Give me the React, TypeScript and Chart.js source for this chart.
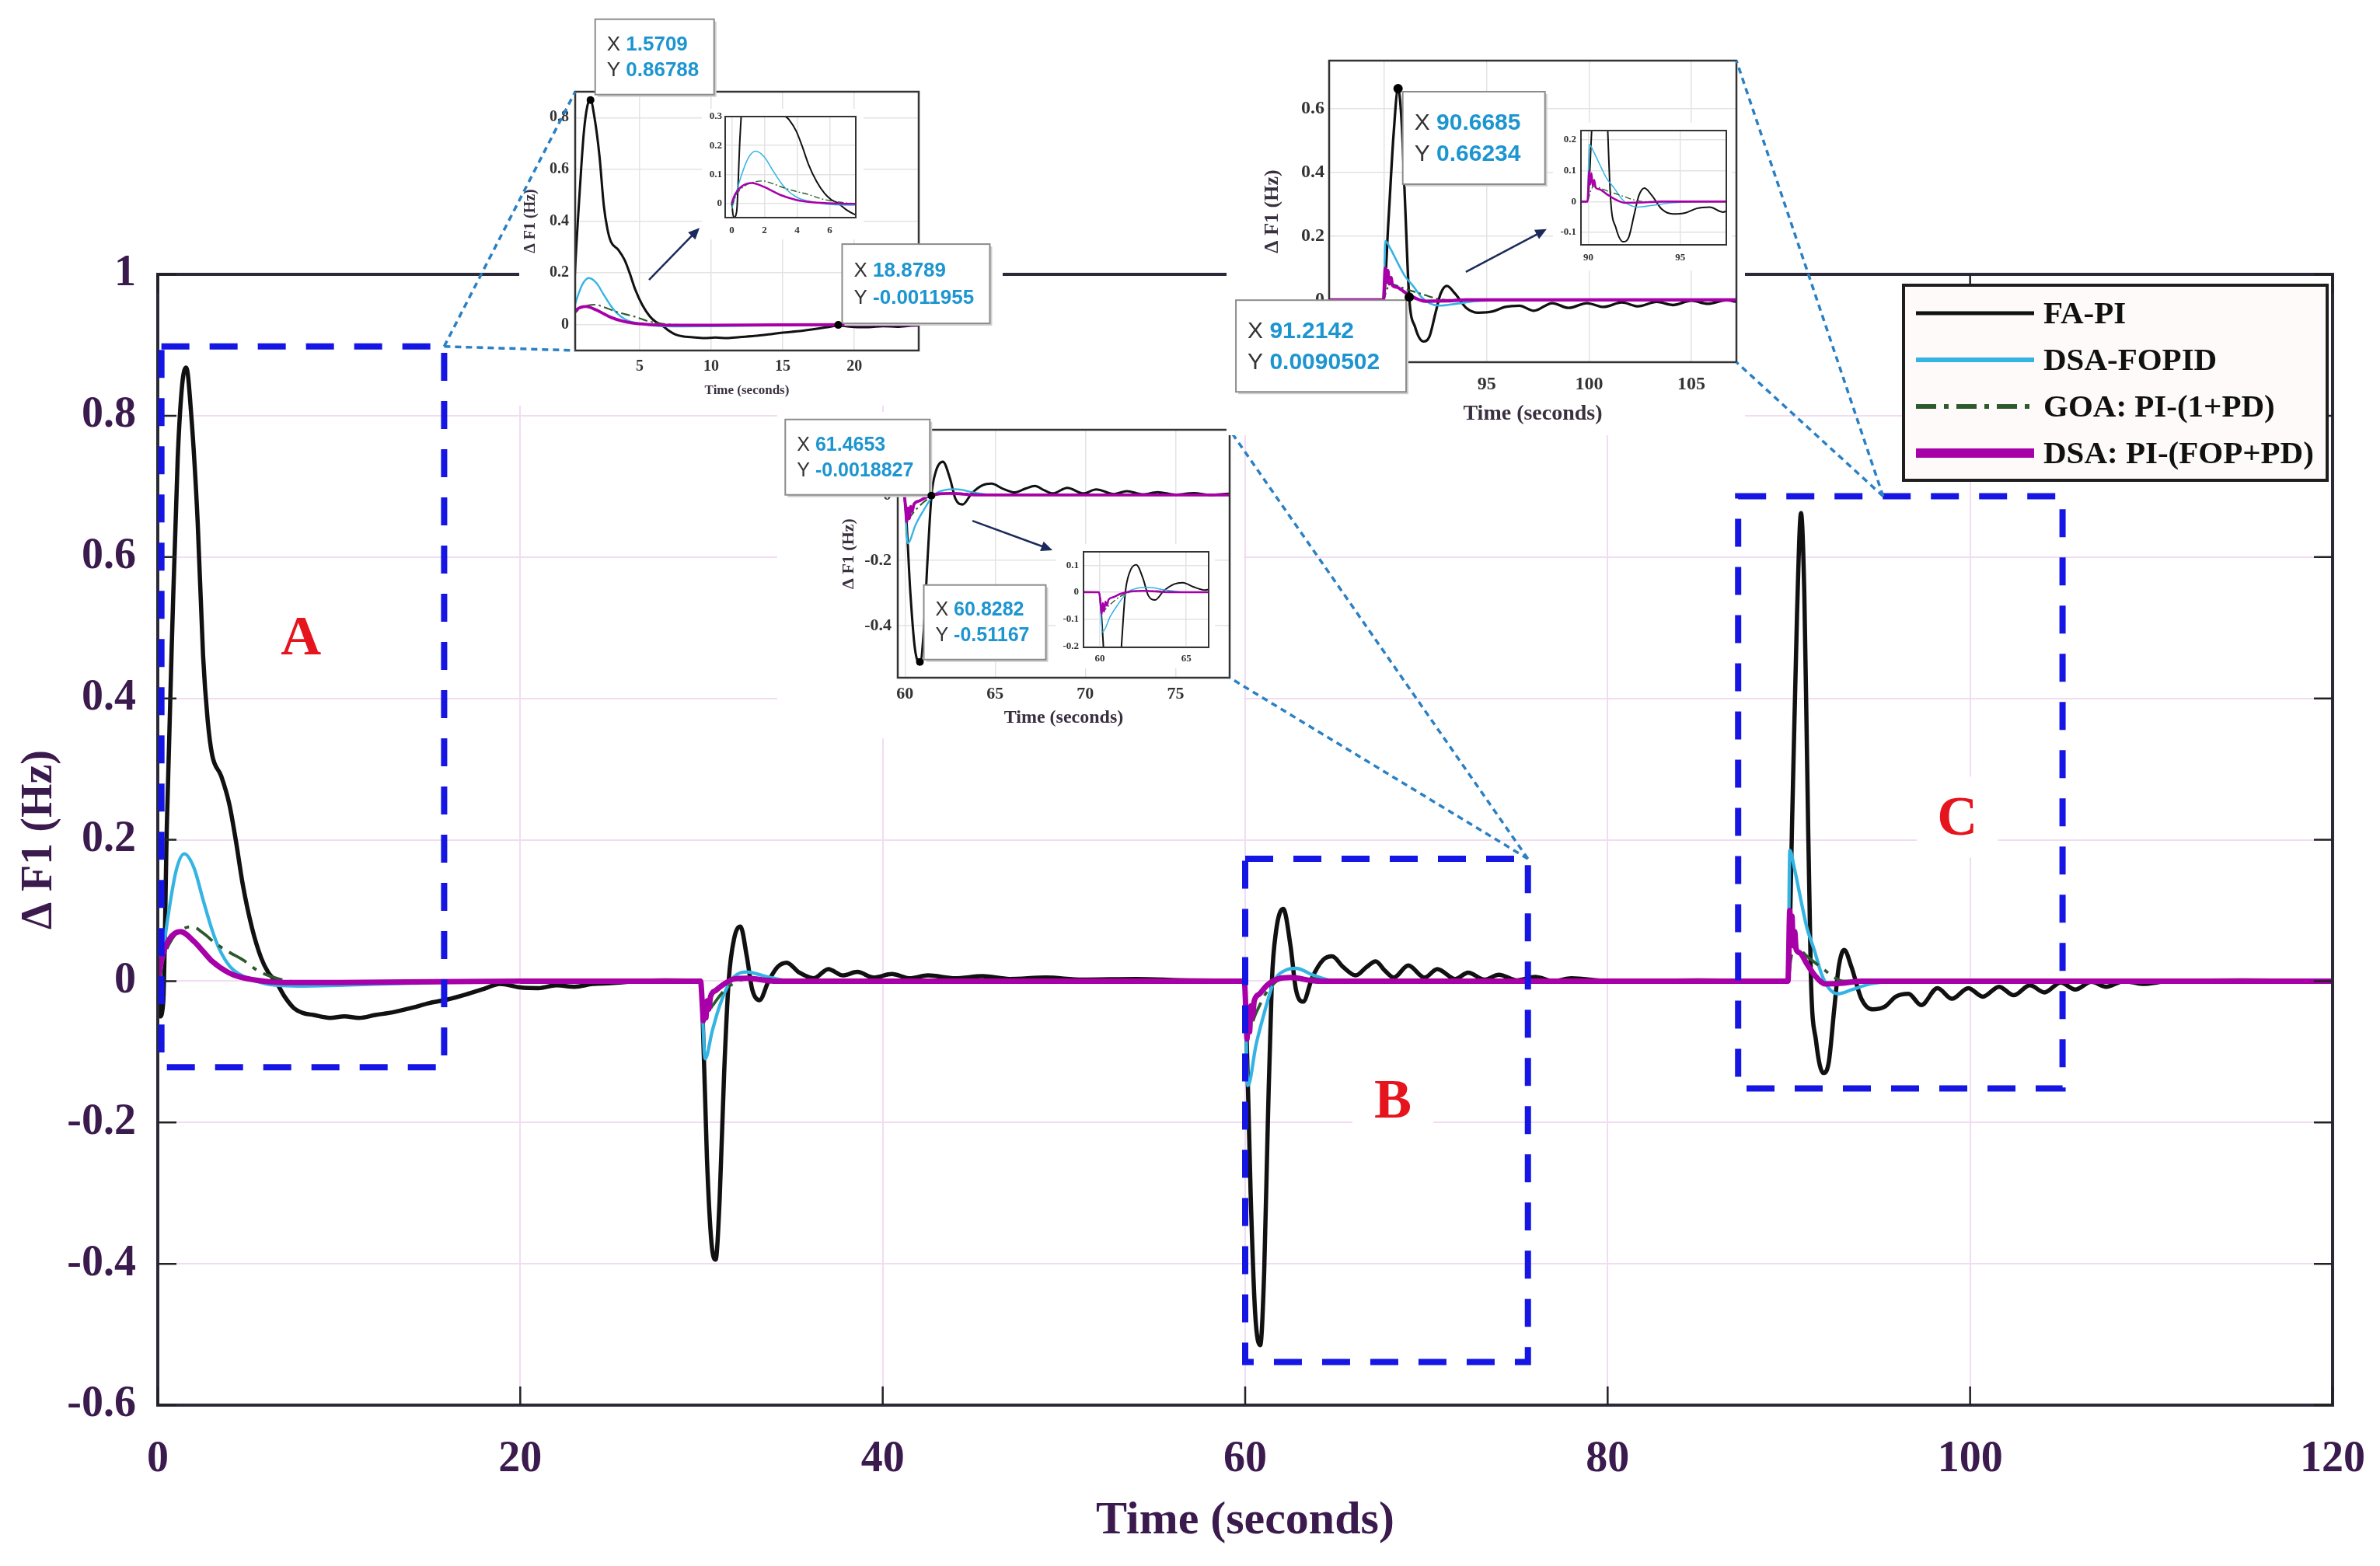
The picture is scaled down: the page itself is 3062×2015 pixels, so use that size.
import React, { useEffect, useRef } from 'react';
import { Chart, registerables } from 'chart.js';

Chart.register(...registerables);

type Pt = [number, number];

// ---------------- data ----------------
const SERIES_NAMES = ['FA-PI', 'DSA-FOPID', 'GOA: PI-(1+PD)', 'DSA: PI-(FOP+PD)'];

const FA_PI: Pt[] = [
  [0, 0], [0.12, -0.05], [0.3, -0.03], [0.5, 0.22], [0.8, 0.5], [1.1, 0.74], [1.35, 0.845], [1.57, 0.868],
  [1.85, 0.8], [2.2, 0.65], [2.5, 0.46], [2.75, 0.37], [3.0, 0.32], [3.5, 0.29], [3.95, 0.25], [4.3, 0.2],
  [4.7, 0.135], [5.2, 0.075], [5.7, 0.033], [6.1, 0.012], [6.5, 0], [7.0, -0.022], [7.5, -0.038], [8.0, -0.045],
  [8.6, -0.048], [9.5, -0.052], [10.3, -0.05], [11.1, -0.052], [12.0, -0.048], [13.0, -0.044], [14.0, -0.038],
  [15.0, -0.031], [16.0, -0.026], [17.0, -0.019], [18.0, -0.011], [18.88, -0.004], [20.0, -0.009], [21.0, -0.01],
  [22.0, -0.006], [23.0, -0.008], [24.0, -0.004], [25.0, -0.003], [26.5, 0], [28.0, 0.001], [29.95, 0],
  [30.05, -0.04], [30.3, -0.25], [30.55, -0.37], [30.78, -0.394], [31.0, -0.31], [31.25, -0.13], [31.5, 0],
  [31.8, 0.06], [32.15, 0.077], [32.5, 0.035], [32.8, -0.012], [33.2, -0.027], [33.7, 0], [34.2, 0.02],
  [34.7, 0.026], [35.4, 0.012], [36.2, 0.004], [37.0, 0.017], [37.8, 0.008], [38.6, 0.013], [39.5, 0.005],
  [40.5, 0.01], [41.5, 0.004], [42.5, 0.008], [44.0, 0.004], [45.5, 0.007], [47.0, 0.003], [49.0, 0.005],
  [51.0, 0.002], [54.0, 0.003], [57.0, 0.001], [59.95, 0],
  [60.05, -0.05], [60.3, -0.3], [60.55, -0.47], [60.83, -0.515], [61.05, -0.41], [61.25, -0.2], [61.47, -0.002],
  [61.7, 0.07], [62.1, 0.102], [62.5, 0.05], [62.8, -0.012], [63.2, -0.029], [63.7, 0.005], [64.3, 0.03],
  [64.8, 0.035], [65.4, 0.02], [66.1, 0.008], [66.7, 0.02], [67.2, 0.028], [67.7, 0.015], [68.2, 0.005],
  [69.0, 0.022], [69.9, 0.005], [70.6, 0.017], [71.6, 0.003], [72.3, 0.012], [73.2, 0.002], [74.0, 0.009],
  [75.0, 0.001], [76.0, 0.006], [77.0, 0], [78.0, 0.004], [80.0, 0], [85.0, 0.001], [89.95, 0],
  [90.2, 0.25], [90.45, 0.52], [90.67, 0.662], [90.85, 0.55], [91.0, 0.32], [91.21, 0.009], [91.5, -0.085],
  [91.9, -0.13], [92.2, -0.115], [92.5, -0.04], [92.75, 0.02], [93.05, 0.044], [93.45, 0.02], [94.0, -0.025],
  [94.6, -0.04], [95.3, -0.036], [95.9, -0.022], [96.6, -0.018], [97.3, -0.034], [98.2, -0.01], [99.0, -0.025],
  [99.9, -0.01], [100.7, -0.022], [101.6, -0.008], [102.4, -0.02], [103.3, -0.006], [104.1, -0.016],
  [105.0, -0.002], [105.8, -0.012], [106.7, -0.001], [107.5, -0.008], [108.5, 0], [109.5, -0.004], [111.0, 0],
  [115.0, 0.001], [120.0, 0],
];

const DSA_FOPID: Pt[] = [
  [0, -0.02], [0.2, 0.02], [0.5, 0.08], [1.0, 0.155], [1.46, 0.18], [2.0, 0.16], [2.5, 0.115], [3.0, 0.072],
  [3.4, 0.045], [4.0, 0.02], [4.5, 0.01], [5.2, 0.002], [6.0, -0.004], [8.0, -0.007], [10.0, -0.006],
  [14.0, -0.003], [20.0, 0], [29.95, 0],
  [30.2, -0.11], [30.6, -0.07], [31.0, -0.035], [31.6, 0], [32.0, 0.01], [32.5, 0.013], [33.5, 0.007], [35.0, 0],
  [59.95, 0], [60.15, -0.148], [60.6, -0.09], [61.0, -0.05], [61.6, 0], [62.2, 0.015], [62.8, 0.018],
  [63.8, 0.008], [65.0, 0], [89.95, 0],
  [90.05, 0.185], [90.3, 0.16], [90.7, 0.11], [91.0, 0.075], [91.4, 0.044], [91.8, 0.01], [92.2, -0.01],
  [92.7, -0.018], [93.5, -0.012], [94.5, -0.004], [96.0, 0], [120.0, 0],
];

const GOA_PI_1PD: Pt[] = [
  [0, -0.01], [0.3, 0.03], [0.8, 0.06], [1.4, 0.074], [1.9, 0.077], [2.5, 0.068], [3.2, 0.053], [4.0, 0.04],
  [4.7, 0.03], [5.5, 0.015], [6.1, 0.008], [7.0, 0.001], [9.0, -0.002], [20.0, 0], [29.95, 0],
  [30.15, -0.05], [30.6, -0.035], [31.2, -0.015], [32.0, 0], [33.0, 0.004], [35.0, 0], [59.95, 0],
  [60.15, -0.07], [60.6, -0.045], [61.2, -0.015], [62.0, 0.003], [63.0, 0.005], [65.0, 0], [89.95, 0],
  [90.1, 0.03], [90.3, 0.05], [90.6, 0.045], [91.0, 0.035], [91.5, 0.025], [92.0, 0.015], [92.5, 0.005],
  [93.0, 0], [120.0, 0],
];

const DSA_PI_FOP_PD: Pt[] = [
  [0, 0], [0.2, 0.03], [0.6, 0.058], [1.25, 0.07], [2.0, 0.056], [2.5, 0.042], [3.0, 0.028], [3.9, 0.012],
  [4.5, 0.006], [5.5, 0.001], [7.0, -0.002], [10.0, -0.002], [20.0, 0], [29.95, 0],
  [30.05, -0.035], [30.1, -0.056], [30.17, -0.03], [30.24, -0.052], [30.32, -0.028], [30.4, -0.04],
  [30.5, -0.022], [30.8, -0.013], [31.2, -0.005], [31.8, 0.003], [32.5, 0.004], [34.0, 0], [59.95, 0],
  [60.05, -0.05], [60.1, -0.082], [60.17, -0.04], [60.24, -0.072], [60.32, -0.035], [60.4, -0.05],
  [60.5, -0.028], [60.8, -0.018], [61.2, -0.006], [61.8, 0.003], [62.5, 0.005], [64.0, 0], [89.95, 0],
  [90.05, 0.1], [90.1, 0.055], [90.17, 0.092], [90.24, 0.05], [90.32, 0.07], [90.4, 0.045], [90.6, 0.04],
  [91.0, 0.024], [91.5, 0.006], [92.0, -0.004], [93.0, -0.003], [94.0, 0], [120.0, 0],
];

const SERIES: Pt[][] = [FA_PI, DSA_FOPID, GOA_PI_1PD, DSA_PI_FOP_PD];

const MAIN_X_TICKS = [0, 20, 40, 60, 80, 100, 120];
const MAIN_Y_TICKS = [-0.6, -0.4, -0.2, 0, 0.2, 0.4, 0.6, 0.8, 1];

// zoom regions on the main axes (data units)
const REGION_LABELS = ['A', 'B', 'C'];
const REGION_X = [[0.2, 15.8], [60, 75.6], [87.2, 105.1]];
const REGION_Y = [[-0.122, 0.898], [-0.539, 0.173], [-0.152, 0.686]];
const REGION_LABEL_AT = [[7.9, 0.487], [68.15, -0.168], [99.3, 0.232]];
const REGION_LINK_AT = [[15.8, 0.898], [75.6, 0.173], [95.2, 0.686]];

// inset axes
const INSET_A_X = [0.5, 24.5];
const INSET_A_Y = [-0.1, 0.9];
const INSET_A_X_TICKS = [5, 10, 15, 20];
const INSET_A_Y_TICKS = [0, 0.2, 0.4, 0.6, 0.8];
const INSET_A_TIPS = [['1.5709', '0.86788'], ['18.8789', '-0.0011955']];
const INSET_A_ARROW = [[5.66, 0.173], [9.19, 0.374]];

const SUB_A_X = [-0.4, 7.6];
const SUB_A_Y = [-0.05, 0.3];
const SUB_A_X_TICKS = [0, 2, 4, 6];
const SUB_A_Y_TICKS = [0, 0.1, 0.2, 0.3];

const INSET_B_X = [59.6, 78];
const INSET_B_Y = [-0.56, 0.2];
const INSET_B_X_TICKS = [60, 65, 70, 75];
const INSET_B_Y_TICKS = [-0.4, -0.2, 0, 0.2];
const INSET_B_TIPS = [['61.4653', '-0.0018827'], ['60.8282', '-0.51167']];
const INSET_B_ARROW = [[63.74, -0.079], [68.18, -0.169]];

const SUB_B_X = [59.05, 66.3];
const SUB_B_Y = [-0.205, 0.15];
const SUB_B_X_TICKS = [60, 65];
const SUB_B_Y_TICKS = [-0.2, -0.1, 0, 0.1];

const INSET_C_X = [87.3, 107.2];
const INSET_C_Y = [-0.195, 0.75];
const INSET_C_X_TICKS = [90, 95, 100, 105];
const INSET_C_Y_TICKS = [0, 0.2, 0.4, 0.6];
const INSET_C_TIPS = [['90.6685', '0.66234'], ['91.2142', '0.0090502']];
const INSET_C_ARROW = [[93.98, 0.088], [97.93, 0.222]];

const SUB_C_X = [89.6, 97.5];
const SUB_C_Y = [-0.14, 0.23];
const SUB_C_X_TICKS = [90, 95];
const SUB_C_Y_TICKS = [-0.1, 0, 0.1, 0.2];

// ---------------- styles / layout ----------------
const SERIF = '"Liberation Serif", "Times New Roman", serif';
const SANS = '"Liberation Sans", Arial, sans-serif';
const PURPLE = '#3b1a4e';
const STYLES = [
  { color: '#111111', width: 5.5, dash: [] as number[], order: 4 },
  { color: '#35b4e4', width: 4.3, dash: [] as number[], order: 3 },
  { color: '#2d5a2d', width: 3.8, dash: [26, 10, 6, 10], order: 2 },
  { color: '#a800a8', width: 7, dash: [] as number[], order: 1 },
];

type Box = { dx: number; dy: number; w: number; h: number };
interface InsetSpec {
  canvas: number[]; // left, top, width, height (page px)
  area: number[]; // left, top, right, bottom (page px)
  xr: number[]; yr: number[]; xt: number[]; yt: number[];
  tickSize: number; xTickPad: number; yTickPad: number;
  xTitle?: { size: number; pad: number };
  yTitle?: { size: number; pad: number };
  lineScale: number;
  tips?: string[][]; tipBoxes?: Box[]; tipFont?: number; dotR?: number;
  arrow?: number[][];
  link?: { region: number; corners: string[] };
}

const INSETS: InsetSpec[] = [
  {
    canvas: [668, 10, 622, 512], area: [740, 118, 1182, 451],
    xr: INSET_A_X, yr: INSET_A_Y, xt: INSET_A_X_TICKS, yt: INSET_A_Y_TICKS,
    tickSize: 20, xTickPad: 9, yTickPad: 8, xTitle: { size: 17, pad: 9 }, yTitle: { size: 20, pad: 3 },
    lineScale: 0.55, tips: INSET_A_TIPS,
    tipBoxes: [{ dx: 6, dy: -104, w: 153, h: 97 }, { dx: 5, dy: -104, w: 190, h: 102 }], tipFont: 26, dotR: 5,
    arrow: INSET_A_ARROW, link: { region: 0, corners: ['tl', 'bl'] },
  },
  {
    canvas: [1000, 530, 600, 420], area: [1155, 553, 1582, 872],
    xr: INSET_B_X, yr: INSET_B_Y, xt: INSET_B_X_TICKS, yt: INSET_B_Y_TICKS,
    tickSize: 22, xTickPad: 8, yTickPad: 8, xTitle: { size: 24, pad: 12 }, yTitle: { size: 22, pad: 79 },
    lineScale: 0.55, tips: INSET_B_TIPS,
    tipBoxes: [{ dx: -188, dy: -98, w: 186, h: 97 }, { dx: 5, dy: -99, w: 157, h: 96 }], tipFont: 25, dotR: 5,
    arrow: INSET_B_ARROW, link: { region: 1, corners: ['tr', 'br'] },
  },
  {
    canvas: [1578, 60, 667, 500], area: [1710, 78, 2234, 466],
    xr: INSET_C_X, yr: INSET_C_Y, xt: INSET_C_X_TICKS, yt: INSET_C_Y_TICKS,
    tickSize: 24, xTickPad: 14, yTickPad: 6, xTitle: { size: 28, pad: 10 }, yTitle: { size: 26, pad: 44 },
    lineScale: 0.6, tips: INSET_C_TIPS,
    tipBoxes: [{ dx: 6, dy: 4, w: 183, h: 119 }, { dx: -223, dy: 4, w: 219, h: 118 }], tipFont: 30, dotR: 6,
    arrow: INSET_C_ARROW, link: { region: 2, corners: ['tr', 'br'] },
  },
  {
    canvas: [903, 140, 208, 168], area: [933, 150, 1101, 280],
    xr: SUB_A_X, yr: SUB_A_Y, xt: SUB_A_X_TICKS, yt: SUB_A_Y_TICKS,
    tickSize: 13, xTickPad: 9, yTickPad: 4, lineScale: 0.36,
  },
  {
    canvas: [1358, 700, 205, 160], area: [1394, 710, 1555, 833],
    xr: SUB_B_X, yr: SUB_B_Y, xt: SUB_B_X_TICKS, yt: SUB_B_Y_TICKS,
    tickSize: 13, xTickPad: 7, yTickPad: 6, lineScale: 0.36,
  },
  {
    canvas: [1998, 158, 230, 190], area: [2034, 168, 2221, 315],
    xr: SUB_C_X, yr: SUB_C_Y, xt: SUB_C_X_TICKS, yt: SUB_C_Y_TICKS,
    tickSize: 13, xTickPad: 9, yTickPad: 6, lineScale: 0.36,
  },
];

function tickFmt(v: number | string) {
  return String(Math.round(Number(v) * 1000) / 1000);
}

function zeroPad(s: any) {
  s.paddingLeft = 0;
  s.paddingRight = 0;
  s.paddingTop = 0;
  s.paddingBottom = 0;
}

function buildDatasets(scale: number, dashScale: number) {
  return SERIES.map((s, i) => ({
    label: SERIES_NAMES[i],
    data: s.map(([x, y]) => ({ x, y })),
    borderColor: STYLES[i].color,
    backgroundColor: STYLES[i].color,
    borderWidth: Math.max(1.2, STYLES[i].width * scale),
    borderDash: STYLES[i].dash.map((d) => d * dashScale),
    pointRadius: 0,
    cubicInterpolationMode: 'monotone',
    order: STYLES[i].order,
    fill: false,
  }));
}

function cornerOf(spec: InsetSpec, c: string): [number, number] {
  const [l, t, r, b] = spec.area;
  return [c[1] === 'l' ? l : r, c[0] === 't' ? t : b];
}

function dottedLine(ctx: CanvasRenderingContext2D, x1: number, y1: number, x2: number, y2: number) {
  ctx.save();
  ctx.strokeStyle = '#2a80c4';
  ctx.lineWidth = 3.5;
  ctx.setLineDash([8, 6]);
  ctx.beginPath();
  ctx.moveTo(x1, y1);
  ctx.lineTo(x2, y2);
  ctx.stroke();
  ctx.restore();
}

function drawArrow(ctx: CanvasRenderingContext2D, x1: number, y1: number, x2: number, y2: number, lw: number, head: number) {
  const ang = Math.atan2(y2 - y1, x2 - x1);
  ctx.save();
  ctx.strokeStyle = '#1b2a5c';
  ctx.fillStyle = '#1b2a5c';
  ctx.lineWidth = lw;
  ctx.setLineDash([]);
  ctx.beginPath();
  ctx.moveTo(x1, y1);
  ctx.lineTo(x2 - Math.cos(ang) * head * 0.7, y2 - Math.sin(ang) * head * 0.7);
  ctx.stroke();
  ctx.beginPath();
  ctx.moveTo(x2, y2);
  ctx.lineTo(x2 - head * Math.cos(ang - 0.42), y2 - head * Math.sin(ang - 0.42));
  ctx.lineTo(x2 - head * Math.cos(ang + 0.42), y2 - head * Math.sin(ang + 0.42));
  ctx.closePath();
  ctx.fill();
  ctx.restore();
}

let mainChartRef: any = null;

function linkPagePoint(region: number) {
  const c = mainChartRef;
  if (!c) return null;
  return [
    c.scales.x.getPixelForValue(REGION_LINK_AT[region][0]),
    c.scales.y.getPixelForValue(REGION_LINK_AT[region][1]),
  ];
}

const mainPlugin = {
  id: 'mainDecor',
  afterDraw(chart: any) {
    const { ctx, chartArea: a, scales } = chart;
    const xs = scales.x;
    const ys = scales.y;
    ctx.save();
    // plot box
    ctx.setLineDash([]);
    ctx.strokeStyle = '#2a2a38';
    ctx.lineWidth = 4;
    ctx.strokeRect(a.left, a.top, a.right - a.left, a.bottom - a.top);
    // inner ticks on all sides
    ctx.lineWidth = 2.5;
    ctx.strokeStyle = '#222';
    const tl = 24;
    MAIN_X_TICKS.forEach((v) => {
      const px = xs.getPixelForValue(v);
      ctx.beginPath();
      ctx.moveTo(px, a.bottom); ctx.lineTo(px, a.bottom - tl);
      ctx.moveTo(px, a.top); ctx.lineTo(px, a.top + tl);
      ctx.stroke();
    });
    MAIN_Y_TICKS.forEach((v) => {
      const py = ys.getPixelForValue(v);
      ctx.beginPath();
      ctx.moveTo(a.left, py); ctx.lineTo(a.left + tl, py);
      ctx.moveTo(a.right, py); ctx.lineTo(a.right - tl, py);
      ctx.stroke();
    });
    // zoom regions + labels
    REGION_LABELS.forEach((lab, i) => {
      const x0 = xs.getPixelForValue(REGION_X[i][0]);
      const x1 = xs.getPixelForValue(REGION_X[i][1]);
      const y0 = ys.getPixelForValue(REGION_Y[i][1]);
      const y1 = ys.getPixelForValue(REGION_Y[i][0]);
      ctx.setLineDash([36, 26]);
      ctx.lineWidth = 8;
      ctx.strokeStyle = '#1616e4';
      ctx.strokeRect(x0, y0, x1 - x0, y1 - y0);
      ctx.setLineDash([]);
      const lx = xs.getPixelForValue(REGION_LABEL_AT[i][0]);
      const ly = ys.getPixelForValue(REGION_LABEL_AT[i][1]);
      ctx.fillStyle = '#ffffff';
      ctx.fillRect(lx - 52, ly - 52, 104, 104);
      ctx.fillStyle = '#e6141c';
      ctx.font = `bold 72px ${SERIF}`;
      ctx.textAlign = 'center';
      ctx.textBaseline = 'middle';
      ctx.fillText(lab, lx, ly + 4);
    });
    // links to insets
    INSETS.forEach((spec) => {
      if (!spec.link) return;
      const p = [xs.getPixelForValue(REGION_LINK_AT[spec.link.region][0]), ys.getPixelForValue(REGION_LINK_AT[spec.link.region][1])];
      spec.link.corners.forEach((c) => {
        const q = cornerOf(spec, c);
        dottedLine(ctx, p[0], p[1], q[0], q[1]);
      });
    });
    // legend
    const lg = { left: 2449, top: 367, w: 545, h: 251 };
    ctx.fillStyle = '#fefafa';
    ctx.fillRect(lg.left, lg.top, lg.w, lg.h);
    ctx.strokeStyle = '#1e1e1e';
    ctx.lineWidth = 4;
    ctx.strokeRect(lg.left, lg.top, lg.w, lg.h);
    chart.data.datasets.forEach((ds: any, i: number) => {
      const cy = lg.top + 36 + i * 60;
      ctx.save();
      ctx.strokeStyle = ds.borderColor;
      ctx.lineWidth = i === 3 ? 12 : i === 0 ? 5 : 6;
      ctx.setLineDash(ds.borderDash || []);
      ctx.beginPath();
      ctx.moveTo(lg.left + 16, cy);
      ctx.lineTo(lg.left + 168, cy);
      ctx.stroke();
      ctx.restore();
      ctx.fillStyle = '#111';
      ctx.font = `bold 41px ${SERIF}`;
      ctx.textAlign = 'left';
      ctx.textBaseline = 'middle';
      ctx.fillText(ds.label, lg.left + 180, cy + 2);
    });
    ctx.restore();
  },
};

function insetConfig(spec: InsetSpec): any {
  const [cl, ct, cw, ch] = spec.canvas;
  const [al, at, ar, ab] = spec.area;
  const plugin = {
    id: 'insetDecor',
    beforeDraw(chart: any) {
      const ctx = chart.ctx;
      ctx.save();
      ctx.fillStyle = '#ffffff';
      ctx.fillRect(0, 0, chart.width, chart.height);
      ctx.restore();
    },
    afterDraw(chart: any) {
      const { ctx, chartArea: a, scales } = chart;
      const xs = scales.x;
      const ys = scales.y;
      ctx.save();
      ctx.setLineDash([]);
      ctx.strokeStyle = '#333';
      ctx.lineWidth = spec.lineScale < 0.5 ? 2 : 2.5;
      ctx.strokeRect(a.left, a.top, a.right - a.left, a.bottom - a.top);
      if (spec.arrow) {
        drawArrow(ctx,
          xs.getPixelForValue(spec.arrow[0][0]), ys.getPixelForValue(spec.arrow[0][1]),
          xs.getPixelForValue(spec.arrow[1][0]), ys.getPixelForValue(spec.arrow[1][1]), 2.5, 16);
      }
      if (spec.tips && spec.tipBoxes) {
        spec.tips.forEach((tip, i) => {
          const px = xs.getPixelForValue(parseFloat(tip[0]));
          const py = ys.getPixelForValue(parseFloat(tip[1]));
          const b = spec.tipBoxes![i];
          const bx = px + b.dx;
          const by = py + b.dy;
          ctx.fillStyle = '#cfcfcf';
          ctx.fillRect(bx + 3, by + 3, b.w, b.h);
          ctx.fillStyle = '#ffffff';
          ctx.fillRect(bx, by, b.w, b.h);
          ctx.strokeStyle = '#8c8c8c';
          ctx.lineWidth = 2;
          ctx.strokeRect(bx, by, b.w, b.h);
          const fs = spec.tipFont || 24;
          ctx.textBaseline = 'middle';
          ctx.textAlign = 'left';
          ['X', 'Y'].forEach((k, j) => {
            const ty = by + b.h * (j === 0 ? 0.34 : 0.68);
            ctx.font = `${fs}px ${SANS}`;
            ctx.fillStyle = '#333';
            ctx.fillText(k, bx + 15, ty);
            const kw = ctx.measureText(k + ' ').width;
            ctx.font = `bold ${fs}px ${SANS}`;
            ctx.fillStyle = '#1d95d0';
            ctx.fillText(tip[j], bx + 15 + kw, ty);
          });
          ctx.fillStyle = '#000';
          ctx.beginPath();
          ctx.arc(px, py, spec.dotR || 5, 0, Math.PI * 2);
          ctx.fill();
        });
      }
      if (spec.link) {
        const p = linkPagePoint(spec.link.region);
        if (p) {
          spec.link.corners.forEach((c) => {
            const q = cornerOf(spec, c);
            dottedLine(ctx, p[0] - cl, p[1] - ct, q[0] - cl, q[1] - ct);
          });
        }
      }
      ctx.restore();
    },
  };
  return {
    type: 'line',
    data: { datasets: buildDatasets(spec.lineScale, spec.lineScale < 0.5 ? 0.3 : 0.45) },
    options: {
      responsive: false,
      animation: false,
      devicePixelRatio: 1,
      layout: { padding: { left: 0, top: at - ct, right: cl + cw - ar, bottom: 0 } },
      plugins: { legend: { display: false }, tooltip: { enabled: false } },
      scales: {
        x: {
          type: 'linear', min: spec.xr[0], max: spec.xr[1],
          afterBuildTicks: (s: any) => { s.ticks = spec.xt.map((value) => ({ value })); },
          afterFit: (s: any) => { s.height = ct + ch - ab; zeroPad(s); },
          grid: { color: '#e3e3e3', lineWidth: 1.5, drawTicks: false },
          border: { display: false },
          ticks: {
            font: { family: SERIF, size: spec.tickSize, weight: 'bold' }, color: '#333',
            padding: spec.xTickPad, maxRotation: 0, autoSkip: false, callback: tickFmt,
          },
          title: spec.xTitle
            ? { display: true, text: 'Time (seconds)', color: '#3a3040', font: { family: SERIF, size: spec.xTitle.size, weight: 'bold' }, padding: { top: 0, bottom: spec.xTitle.pad } }
            : { display: false },
        },
        y: {
          type: 'linear', min: spec.yr[0], max: spec.yr[1],
          afterBuildTicks: (s: any) => { s.ticks = spec.yt.map((value) => ({ value })); },
          afterFit: (s: any) => { s.width = al - cl; zeroPad(s); },
          grid: { color: '#e3e3e3', lineWidth: 1.5, drawTicks: false },
          border: { display: false },
          ticks: {
            font: { family: SERIF, size: spec.tickSize, weight: 'bold' }, color: '#333',
            padding: spec.yTickPad, autoSkip: false, callback: tickFmt,
          },
          title: spec.yTitle
            ? { display: true, text: 'Δ F1 (Hz)', color: '#3a3040', font: { family: SERIF, size: spec.yTitle.size, weight: 'bold' }, padding: { top: spec.yTitle.pad, bottom: 0 } }
            : { display: false },
        },
      },
    },
    plugins: [plugin],
  };
}

function mainConfig(): any {
  return {
    type: 'line',
    data: { datasets: buildDatasets(1, 1) },
    options: {
      responsive: false,
      animation: false,
      devicePixelRatio: 1,
      layout: { padding: { left: 0, top: 353, right: 61, bottom: 0 } },
      plugins: { legend: { display: false }, tooltip: { enabled: false } },
      scales: {
        x: {
          type: 'linear', min: 0, max: 120,
          afterBuildTicks: (s: any) => { s.ticks = MAIN_X_TICKS.map((value) => ({ value })); },
          afterFit: (s: any) => { s.height = 207; zeroPad(s); },
          grid: { color: '#f2dcf2', lineWidth: 2, drawTicks: false },
          border: { display: false },
          ticks: {
            font: { family: SERIF, size: 56, weight: 'bold' }, color: PURPLE,
            padding: 37, maxRotation: 0, autoSkip: false, callback: tickFmt,
          },
          title: {
            display: true, text: 'Time (seconds)', color: PURPLE,
            font: { family: SERIF, size: 60, weight: 'bold' }, padding: { top: 0, bottom: 22 },
          },
        },
        y: {
          type: 'linear', min: -0.6, max: 1,
          afterBuildTicks: (s: any) => { s.ticks = MAIN_Y_TICKS.map((value) => ({ value })); },
          afterFit: (s: any) => { s.width = 203; zeroPad(s); },
          grid: { color: '#f2dcf2', lineWidth: 2, drawTicks: false },
          border: { display: false },
          ticks: {
            font: { family: SERIF, size: 56, weight: 'bold' }, color: PURPLE,
            padding: 28, autoSkip: false, callback: tickFmt,
          },
          title: {
            display: true, text: 'Δ F1 (Hz)', color: PURPLE,
            font: { family: SERIF, size: 56, weight: 'bold' }, padding: { top: 18, bottom: 0 },
          },
        },
      },
    },
    plugins: [mainPlugin],
  };
}

export default function App() {
  const mainRef = useRef<HTMLCanvasElement | null>(null);
  const insetRefs = useRef<(HTMLCanvasElement | null)[]>([]);

  useEffect(() => {
    const charts: Chart[] = [];
    const main = new Chart(mainRef.current as HTMLCanvasElement, mainConfig());
    mainChartRef = main;
    charts.push(main);
    INSETS.forEach((spec, i) => {
      const cv = insetRefs.current[i];
      if (cv) charts.push(new Chart(cv, insetConfig(spec)));
    });
    return () => {
      charts.forEach((c) => c.destroy());
      mainChartRef = null;
    };
  }, []);

  return (
    <div style={{ position: 'absolute', left: 0, top: 0, width: 3062, height: 2015, background: '#ffffff', overflow: 'hidden' }}>
      <canvas
        ref={mainRef}
        width={3062}
        height={2015}
        style={{ position: 'absolute', left: 0, top: 0, width: 3062, height: 2015 }}
      />
      {INSETS.map((s, i) => (
        <canvas
          key={i}
          ref={(el) => { insetRefs.current[i] = el; }}
          width={s.canvas[2]}
          height={s.canvas[3]}
          style={{ position: 'absolute', left: s.canvas[0], top: s.canvas[1], width: s.canvas[2], height: s.canvas[3] }}
        />
      ))}
    </div>
  );
}
